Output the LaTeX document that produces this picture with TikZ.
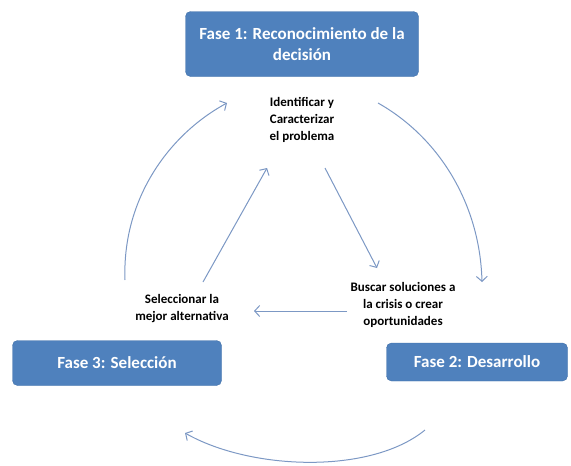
\documentclass[tikz,border=0pt]{standalone}
\usepackage{fontspec}
\setmainfont{Carlito}
\usetikzlibrary{positioning, arrows.meta}
\definecolor{faseblue}{HTML}{4F81BD}
\definecolor{faseedge}{HTML}{3F6FA8}
\definecolor{arrowblue}{HTML}{7C98C4}

\begin{document}
\begin{tikzpicture}[
    x=1pt, y=-1pt,
    fase/.style={rectangle, rounded corners=5pt, draw=faseedge, fill=faseblue, text=white, font=\fontsize{17}{21}\selectfont\bfseries, align=center, inner sep=0pt},
    paso/.style={align=center, font=\fontsize{13}{17}\selectfont\bfseries},
    arrow/.style={-{Straight Barb[length=5pt, width=11pt]}, draw=arrowblue, line width=1pt}
]
\useasboundingbox (0,0) rectangle (571,466);
\node (fase1) [fase, minimum width=233pt, minimum height=65pt] at (302,44) {Fase 1: Reconocimiento de la \\ decisión};
\node (fase2) [fase, minimum width=181pt, minimum height=38pt] at (477,362) {Fase 2: Desarrollo};
\node (fase3) [fase, minimum width=209pt, minimum height=45pt] at (117,363) {Fase 3: Selección};

\node (identificar) [paso] at (302,120) {Identificar y \\ Caracterizar \\ el problema};
\node (buscar) [paso] at (403,305) {Buscar soluciones a \\ la crisis o crear \\ oportunidades};
\node (seleccionar) [paso] at (182,309) {Seleccionar la \\ mejor alternativa};

% outer cycle
\coordinate (a1) at (378,103);
\coordinate (a2) at (482,282);
\coordinate (b1) at (425,430);
\coordinate (b2) at (185,433);
\coordinate (c1) at (125,280);
\coordinate (c2) at (227,103);
% inner cycle
\coordinate (d1) at (325,168);
\coordinate (d2) at (377,268);
\coordinate (e1) at (347,311);
\coordinate (e2) at (254,311);
\coordinate (f1) at (203,282);
\coordinate (f2) at (267,168);

\draw [arrow] (a1) .. controls (440,138) and (480,205) .. (a2);
\draw [arrow] (b1) .. controls (370,475) and (250,470) .. (b2);
\draw [arrow] (c1) .. controls (122,200) and (168,135) .. (c2);

\draw [arrow] (d1) -- (d2);
\draw [arrow] (e1) -- (e2);
\draw [arrow] (f1) -- (f2);
\end{tikzpicture}
\end{document}
